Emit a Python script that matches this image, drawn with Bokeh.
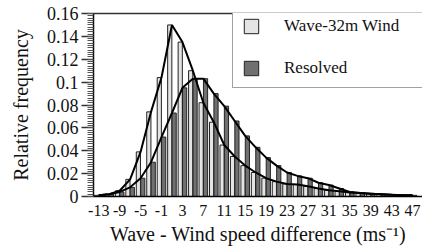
from bokeh.plotting import figure
from bokeh.models import Range1d, LinearAxis, FixedTicker, Legend, LegendItem, ColumnDataSource
from bokeh.transform import dodge
from bokeh.embed import file_html
from bokeh.resources import INLINE
import numpy as np

# categories: wave - wind speed difference bins (m/s)
bins = list(range(-13, 48, 2))
wave_32m_wind = [0.001, 0.002, 0.005, 0.015, 0.039, 0.074, 0.104, 0.150, 0.135, 0.110,
                 0.082, 0.065, 0.045, 0.035, 0.027, 0.021, 0.016, 0.013, 0.011, 0.0105,
                 0.009, 0.007, 0.0055, 0.0045, 0.0035, 0.003, 0.0025, 0.002, 0.0015, 0.0012, 0.001]
resolved = [0.001, 0.002, 0.004, 0.008, 0.016, 0.030, 0.052, 0.073, 0.095, 0.103,
            0.103, 0.090, 0.079, 0.066, 0.053, 0.043, 0.034, 0.027, 0.021, 0.018,
            0.016, 0.012, 0.010, 0.007, 0.004, 0.003, 0.0025, 0.002, 0.0015, 0.001, 0.001]
x_tick_values = list(range(-13, 48, 4))
x_tick_labels = [str(v) for v in x_tick_values]
y_tick_values = [0, 0.02, 0.04, 0.06, 0.08, 0.1, 0.12, 0.14, 0.16]
y_tick_labels = ["0", "0.02", "0.04", "0.06", "0.08", "0.1", "0.12", "0.14", "0.16"]

FONT = "Liberation Serif"

src = ColumnDataSource(dict(bin=bins, wave=wave_32m_wind, res=resolved))

p = figure(width=422, height=249, output_backend="svg", toolbar_location=None,
           x_range=Range1d(-14.0, 48.9), y_range=Range1d(0, 0.16),
           min_border_left=93, min_border_right=0, min_border_top=13, min_border_bottom=53)
p.outline_line_color = None
p.grid.visible = False

r_light = p.vbar(x=dodge("bin", -0.42, range=p.x_range), top="wave", width=0.8, bottom=0,
                 source=src, fill_color="#e4e4e4", line_color="#222222", line_width=1)
r_dark = p.vbar(x=dodge("bin", 0.42, range=p.x_range), top="res", width=0.8, bottom=0,
                source=src, fill_color="#707070", line_color="#222222", line_width=1)
p.line("bin", "wave", source=src, line_color="black", line_width=2)
p.line("bin", "res", source=src, line_color="black", line_width=2)

xa = p.below[0]
ya = p.left[0]

# top frame line
top = LinearAxis(major_tick_line_color=None, minor_tick_line_color=None,
                 major_label_text_font_size="0px", axis_line_color="#333333", axis_line_width=1.5,
                 major_tick_out=0, major_label_standoff=0)
top.ticker = FixedTicker(ticks=[])
p.add_layout(top, "above")

xa.ticker = FixedTicker(ticks=x_tick_values)
xa.major_label_overrides = dict(zip(x_tick_values, x_tick_labels))
xa.major_tick_line_color = None
xa.minor_tick_line_color = None
xa.major_tick_out = 0
xa.major_label_standoff = 8
xa.axis_line_color = "black"
xa.axis_line_width = 1.5
xa.major_label_text_font = FONT
xa.major_label_text_font_size = "16px"
xa.major_label_text_color = "#111111"
xa.axis_label = "Wave - Wind speed difference (ms\u207b\u00b9)"
xa.axis_label_text_font = FONT
xa.axis_label_text_font_size = "20px"
xa.axis_label_text_font_style = "normal"
xa.axis_label_text_color = "#111111"
xa.axis_label_standoff = 4

ya.ticker = FixedTicker(ticks=y_tick_values,
                        minor_ticks=np.round(np.arange(0, 0.1601, 0.002), 4).tolist())
ya.major_label_overrides = dict(zip(y_tick_values, y_tick_labels))
ya.major_tick_out = 12
ya.major_tick_in = 0
ya.minor_tick_out = 6
ya.minor_tick_in = 0
ya.major_tick_line_color = "#333333"
ya.minor_tick_line_color = "#555555"
ya.major_tick_line_width = 1.5
ya.major_label_standoff = 3
ya.axis_line_color = "black"
ya.axis_line_width = 1.5
ya.major_label_text_font = FONT
ya.major_label_text_font_size = "18px"
ya.major_label_text_color = "#111111"
ya.axis_label = "Relative frequency"
ya.axis_label_text_font = FONT
ya.axis_label_text_font_size = "20px"
ya.axis_label_text_font_style = "normal"
ya.axis_label_text_color = "#111111"
ya.axis_label_standoff = 12

legend = Legend(items=[LegendItem(label="Wave-32m Wind", renderers=[r_light]),
                       LegendItem(label="Resolved", renderers=[r_dark])],
                location=(139, 108), padding=9, margin=0, spacing=22,
                glyph_width=18, glyph_height=18, label_height=18, label_width=150,
                label_standoff=24, label_text_font=FONT, label_text_font_size="17px",
                label_text_color="#111111",
                border_line_color="#444444", border_line_width=1.5,
                background_fill_color="white", background_fill_alpha=1.0)
p.add_layout(legend)

open("out.html", "w").write(file_html(p, INLINE))
